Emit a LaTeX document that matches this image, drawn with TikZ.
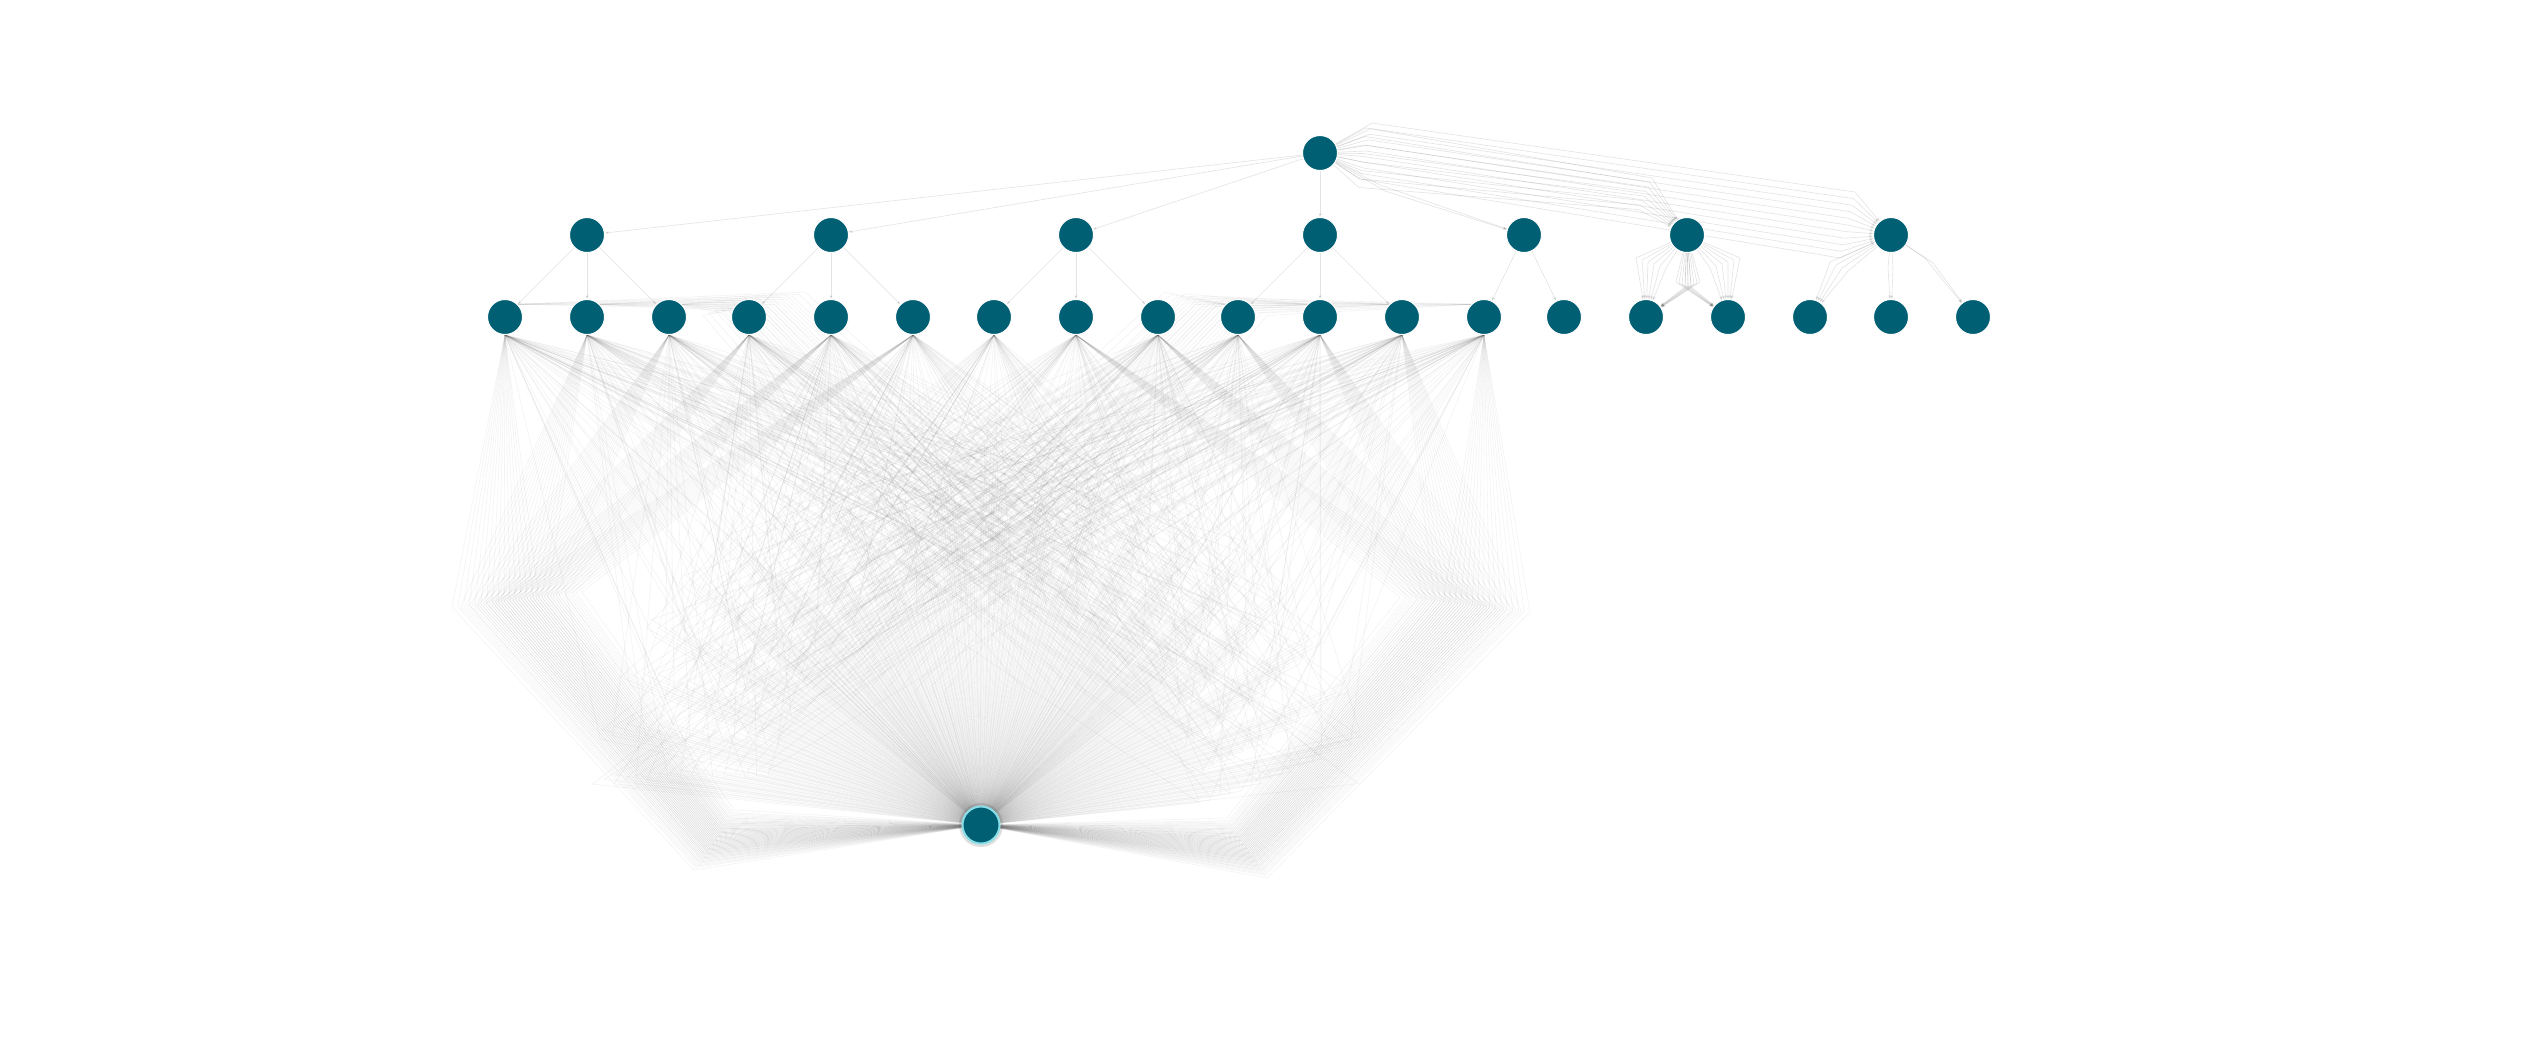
\documentclass[tikz,border=0pt]{standalone}
\usetikzlibrary{arrows.meta}
\definecolor{teal0}{RGB}{0,95,115}
\definecolor{ringc}{RGB}{135,222,232}
\pgfdeclarelayer{bg}
\pgfsetlayers{bg,main}
\begin{document}
\begin{tikzpicture}[x=1pt,y=-1pt,
  nd/.style={circle,fill=teal0,draw=white,line width=1pt,minimum size=35pt,inner sep=0pt},
  fan/.style={draw=black!60,line width=0.6pt,opacity=0.075},
  tree/.style={draw=black!60,line width=0.6pt,opacity=0.18,-{Stealth[length=4pt,width=3pt]}},
]
\useasboundingbox (0,0) rectangle (2521,1045);
% nodes
\node[nd] (r) at (1320,153) {};
\foreach \n/\x in {0/587,1/831,2/1076,3/1320,4/1524,5/1687,6/1891}
  \node[nd] (a\n) at (\x,235) {};
\foreach \n/\x in {0/505,1/587,2/669,3/749,4/831,5/913,6/994,7/1076,8/1158,9/1238,10/1320,11/1402,12/1484,13/1564,14/1646,15/1728,16/1810,17/1891,18/1973}
  \node[nd] (m\n) at (\x,317) {};
\node[nd,minimum size=37pt,draw=ringc,line width=2pt] (B) at (981,825) {};

\begin{pgfonlayer}{bg}
\fill[white] (0,0) rectangle (2521,1045);
\fill[black!25,opacity=0.5] (B) circle (22);
% root to level 1
\foreach \n in {0,1,2,3} \draw[tree] (r) -- (a\n);
\foreach \p/\c in {0/0,0/1,0/2,1/3,1/4,1/5,2/6,2/7,2/8,3/9,3/10,3/11,4/12,4/13}
  \draw[tree] (a\p) -- (m\c);
% bundle root -> a6
\foreach \j in {0,...,10}
  \draw[tree] (r) -- ({1372-1.2*\j},{123+5.6*\j}) -- ({1855-1.5*\j},{192+6.6*\j}) -- (a6);
% bundle root -> a5
\foreach \j in {0,...,7}
  \draw[tree] (r) -- ({1366-\j},{128+8.5*\j}) -- ({1652-2*\j},{178+4.5*\j}) -- (a5);
% root -> a4
\foreach \j in {0,1}
  \draw[tree] (r) -- ({1380+5*\j},{185+6*\j}) -- (a4);
% a5 -> m14, m15
\foreach \j in {0,...,5}{
  \draw[tree] (a5) -- ({1636+6*\j},{258+2*\j}) -- (m14);
  \draw[tree] (a5) -- ({1740-6*\j},{258+2*\j}) -- (m15);
  \draw[tree] (a5) -- ({1700-3*\j},{282+\j}) -- (m14);
  \draw[tree] (a5) -- ({1676+3*\j},{282+\j}) -- (m15);
}
% a6 -> m16, m17, m18
\foreach \j in {0,...,3}
  \draw[tree] (a6) -- ({1830+6*\j},{262+3*\j}) -- (m16);
\foreach \j in {0,1}{
  \draw[tree] (a6) -- ({1888+5*\j},{268}) -- (m17);
  \draw[tree] (a6) -- ({1925+8*\j},{258+5*\j}) -- (m18);
}
% left outer family
\foreach \i in {0,...,5}{
  \foreach \k in {0,...,15}{
    \pgfmathsetmacro\a{(6*\i+4*\k)/90}
    \draw[fan] (m\i.south) -- ({452+130*\a},{607-15*\a}) -- ({694+40*\a},{870-60*\a}) -- (B);
  }}
% right outer family
\foreach \i in {0,...,5}{
  \pgfmathtruncatemacro\mi{12-\i}
  \foreach \k in {0,...,15}{
    \pgfmathsetmacro\a{(6*\i+4*\k)/90}
    \draw[fan] (m\mi.south) -- ({1530-130*\a},{612-15*\a}) -- ({1267-40*\a},{878-60*\a}) -- (B);
  }}
% central family
\foreach \i/\x in {0/505,1/587,2/669,3/749,4/831,5/913,6/994,7/1076,8/1158,9/1238,10/1320,11/1402,12/1484}{
  \foreach \j in {0,...,47}{
    \pgfmathsetmacro\th{6+168*mod(\j+0.37*\i,48)/48}
    \pgfmathsetmacro\R{215+mod(\j*7+\i*3,17)*10.5}
    \draw[fan] (m\i.south) -- ({981+1.02*\R*cos(\th)},{825-\R*sin(\th)}) -- (B);
  }}
% top crossing family (left)
\foreach \i in {0,1,2,3}{
  \foreach \k in {0,...,7}{
    \draw[fan] (m\i.north east) -- ({805-6*\k-20*\i},{292+2.5*\k+2*\i}) -- ({1200-12*\k-30*\i},{650+6*\k}) -- (B);
  }}
% top crossing family (right)
\foreach \i in {9,10,11,12}{
  \foreach \k in {0,...,7}{
    \draw[fan] (m\i.north west) -- ({1165+6*\k+20*(\i-9)},{292+2.5*\k+2*(\i-9)}) -- ({770+12*\k+30*(\i-9)},{650+6*\k}) -- (B);
  }}
\end{pgfonlayer}
\end{tikzpicture}
\end{document}
